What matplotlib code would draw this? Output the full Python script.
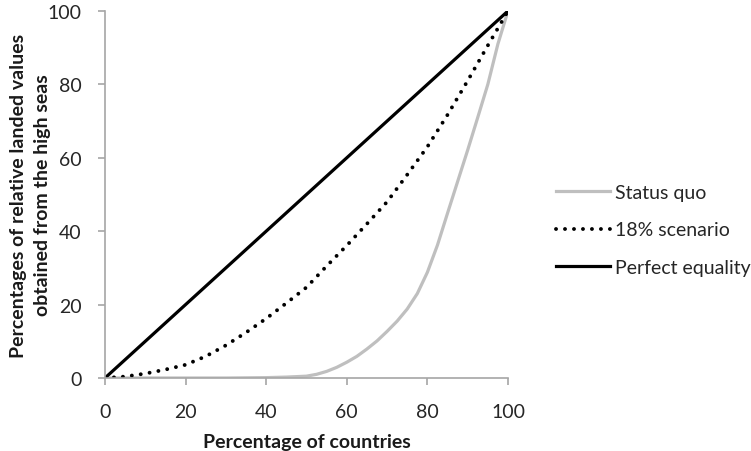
import matplotlib
matplotlib.use('Agg')
import matplotlib.pyplot as plt

plt.rcParams['font.family'] = ['Lato', 'DejaVu Sans']

# share of countries (%) and cumulative share of landed values (%)
sq_x = [0, 10, 20, 30, 35, 40, 45, 50, 52.5, 55, 57.5, 60, 62.5, 65, 67.5, 70, 72.5,
        75, 77.5, 80, 82.5, 85, 87.5, 90, 92.5, 95, 97.5, 100]
status_quo = [0, 0, 0, 0, 0.05, 0.1, 0.25, 0.5, 1.0, 1.8, 2.9, 4.3, 5.9, 7.9, 10.1, 12.7, 15.5,
              18.8, 23, 28.8, 36.2, 44.9, 53.5, 62.1, 71, 80, 91, 100]

sc_x = [0, 5, 10, 15, 20, 25, 30, 35, 40, 45, 50, 55, 60, 65, 70, 75, 80, 85, 90, 95, 100]
scenario_18 = [0, 0.4, 1.2, 2.3, 3.6, 5.9, 8.9, 12.4, 16.2, 20.4, 24.7, 30.5, 36.1, 42, 48,
               55.4, 63, 71.7, 81, 90.6, 100]

eq_x = [0, 100]
equality = [0, 100]

fig = plt.figure(figsize=(7.51, 4.52), dpi=100)
ax = fig.add_axes([0.1398, 0.1615, 0.5366, 0.812])

ax.plot(sq_x, status_quo, color='#BFBFBF', lw=2.3, label='Status quo')
ax.plot(sc_x, scenario_18, color='black', lw=2.8, linestyle=(0, (0.01, 2.3)),
        dash_capstyle='round', label='18% scenario')
ax.plot(eq_x, equality, color='black', lw=2.3, label='Perfect equality')

ax.set_xlim(0, 100)
ax.set_ylim(0, 100)
ax.set_xticks(range(0, 101, 20))
ax.set_yticks(range(0, 101, 20))

for s in ['top', 'right']:
    ax.spines[s].set_visible(False)
for s in ['left', 'bottom']:
    ax.spines[s].set_color('#A6A6A6')
    ax.spines[s].set_linewidth(1.2)
ax.tick_params(direction='out', length=5, width=1.2, color='#A6A6A6',
               labelsize=14, labelcolor='#262626')
ax.tick_params(axis='x', pad=13)
ax.tick_params(axis='y', pad=12)

ax.set_xlabel('Percentage of countries', fontsize=14, fontweight='bold', labelpad=9,
              color='#1a1a1a')
ax.set_ylabel('Percentages of relative landed values\nobtained from the high seas',
              fontsize=14, fontweight='bold', linespacing=1.45, color='#1a1a1a')
ax.yaxis.set_label_coords(-0.135, 0.5)

leg = ax.legend(loc='center left', bbox_to_anchor=(0.717, 0.489), bbox_transform=fig.transFigure,
                frameon=False, fontsize=14, handlelength=2.8, handletextpad=0.26,
                labelspacing=1.04)
for t in leg.get_texts():
    t.set_color('#262626')

fig.savefig('out.png', dpi=100)
